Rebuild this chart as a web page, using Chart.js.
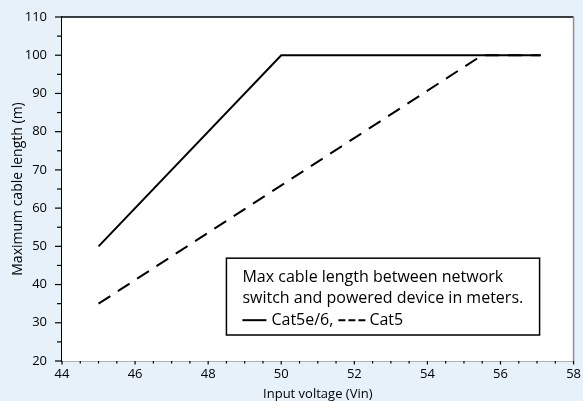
<!DOCTYPE html>
<html>
<head>
<meta charset="utf-8">
<script src="https://cdn.jsdelivr.net/npm/chart.js@4"></script>
<style>
  html, body { margin: 0; padding: 0; background: #e6f1fa; }
  #wrap { width: 583px; height: 401px; }
</style>
</head>
<body>
<div id="wrap"><canvas id="chart" width="583" height="401"></canvas></div>
<script>
// data
const cat5e6Volts = [45, 50, 57.1];
const cat5e6Length = [50, 100, 100];
const cat5Volts = [45, 55.5, 57.1];
const cat5Length = [35, 100, 100];

const xTickLabels = [44, 46, 48, 50, 52, 54, 56, 58];
const yTickLabels = [20, 30, 40, 50, 60, 70, 80, 90, 100, 110];

const legendLines = [
  "Max cable length between network",
  "switch and powered device in meters.",
];
const legendSeries = ["Cat5e/6,", "Cat5"];

const FONT = "'Open Sans', 'Noto Sans', sans-serif";

function toPoints(xs, ys) {
  return xs.map((x, i) => ({ x: x, y: ys[i] }));
}

// white plot area + frame
const plotFrame = {
  id: "plotFrame",
  beforeDatasetsDraw(chart) {
    const { ctx, chartArea: a } = chart;
    ctx.save();
    ctx.fillStyle = "#fff";
    ctx.fillRect(a.left, a.top, a.right - a.left, a.bottom - a.top);
    ctx.restore();
  },
  afterDatasetsDraw(chart) {
    const { ctx, chartArea: a, scales } = chart;
    ctx.save();
    ctx.lineWidth = 1.3;
    ctx.strokeStyle = "#000";
    ctx.beginPath();
    ctx.moveTo(a.left, a.top);
    ctx.lineTo(a.right, a.top);
    ctx.stroke();
    ctx.strokeStyle = "#8a8f96";
    ctx.lineWidth = 1.5;
    ctx.beginPath();
    ctx.moveTo(a.right, a.top);
    ctx.lineTo(a.right, a.bottom);
    ctx.stroke();

    // tick marks, major longer than minor
    ctx.strokeStyle = "#000";
    ctx.lineWidth = 1.2;
    scales.x.ticks.forEach(t => {
      const px = scales.x.getPixelForValue(t.value);
      const len = xTickLabels.includes(t.value) ? 3.5 : 2.5;
      ctx.beginPath();
      ctx.moveTo(px, a.bottom);
      ctx.lineTo(px, a.bottom + len);
      ctx.stroke();
    });
    scales.y.ticks.forEach(t => {
      const py = scales.y.getPixelForValue(t.value);
      const len = yTickLabels.includes(t.value) ? 7 : 5;
      ctx.beginPath();
      ctx.moveTo(a.left - len, py);
      ctx.lineTo(a.left, py);
      ctx.stroke();
    });
    ctx.restore();
  },
};

// boxed text legend inside the plot
const boxLegend = {
  id: "boxLegend",
  afterDatasetsDraw(chart) {
    const { ctx, scales } = chart;
    const left = scales.x.getPixelForValue(48.5);
    const right = scales.x.getPixelForValue(57.07);
    const top = scales.y.getPixelForValue(46.9);
    const bottom = scales.y.getPixelForValue(26.8);
    ctx.save();
    ctx.fillStyle = "#fff";
    ctx.fillRect(left, top, right - left, bottom - top);
    ctx.strokeStyle = "#000";
    ctx.lineWidth = 1.5;
    ctx.strokeRect(left, top, right - left, bottom - top);

    ctx.font = "16px " + FONT;
    ctx.fillStyle = "#000";
    ctx.textBaseline = "middle";
    const tx = left + 16;
    ctx.fillText(legendLines[0], tx, top + 19);
    ctx.fillText(legendLines[1], tx, top + 40);

    const ly = top + 62;
    ctx.lineWidth = 2;
    ctx.beginPath();
    ctx.moveTo(tx, ly);
    ctx.lineTo(tx + 24, ly);
    ctx.stroke();
    let x = tx + 29;
    ctx.fillText(legendSeries[0], x, ly);
    x += ctx.measureText(legendSeries[0]).width + 5;
    ctx.setLineDash([7, 3]);
    ctx.beginPath();
    ctx.moveTo(x, ly);
    ctx.lineTo(x + 27, ly);
    ctx.stroke();
    ctx.setLineDash([]);
    ctx.fillText(legendSeries[1], x + 31, ly);
    ctx.restore();
  },
};

const ctx = document.getElementById("chart").getContext("2d");
new Chart(ctx, {
  type: "scatter",
  data: {
    datasets: [
      {
        label: "Cat5e/6",
        data: toPoints(cat5e6Volts, cat5e6Length),
        showLine: true,
        borderColor: "#000",
        borderWidth: 2,
        pointRadius: 0,
      },
      {
        label: "Cat5",
        data: toPoints(cat5Volts, cat5Length),
        showLine: true,
        borderColor: "#000",
        borderWidth: 2,
        borderDash: [14, 9],
        pointRadius: 0,
      },
    ],
  },
  options: {
    responsive: false,
    animation: false,
    layout: { padding: { top: 17, right: 7, left: 0, bottom: 0 } },
    plugins: { legend: { display: false }, tooltip: { enabled: false } },
    scales: {
      x: {
        type: "linear",
        min: 44,
        max: 58,
        afterFit: s => { s.height = 40; },
        ticks: {
          stepSize: 0.5,
          autoSkip: false,
          maxRotation: 0,
          padding: 2,
          color: "#000",
          font: { family: FONT, size: 13 },
          callback: v => (xTickLabels.includes(v) ? String(v) : ""),
        },
        grid: { display: false, drawTicks: true, tickLength: 3 },
        border: { display: true, color: "#000", width: 1.3 },
        title: {
          display: true,
          text: "Input voltage (Vin)",
          color: "#000",
          font: { family: FONT, size: 13 },
          padding: { top: 0, bottom: -1 },
        },
      },
      y: {
        type: "linear",
        min: 20,
        max: 110,
        afterFit: s => { s.width = 62; },
        ticks: {
          stepSize: 5,
          autoSkip: false,
          padding: 8,
          color: "#000",
          font: { family: FONT, size: 13 },
          callback: v => (yTickLabels.includes(v) ? String(v) : ""),
        },
        grid: { display: false, drawTicks: true, tickLength: 7 },
        border: { display: true, color: "#000", width: 1.3 },
        title: {
          display: true,
          text: "Maximum cable length (m)",
          color: "#000",
          font: { family: FONT, size: 14 },
          padding: { top: 10, bottom: 0 },
        },
      },
    },
  },
  plugins: [plotFrame, boxLegend],
});
</script>
</body>
</html>
